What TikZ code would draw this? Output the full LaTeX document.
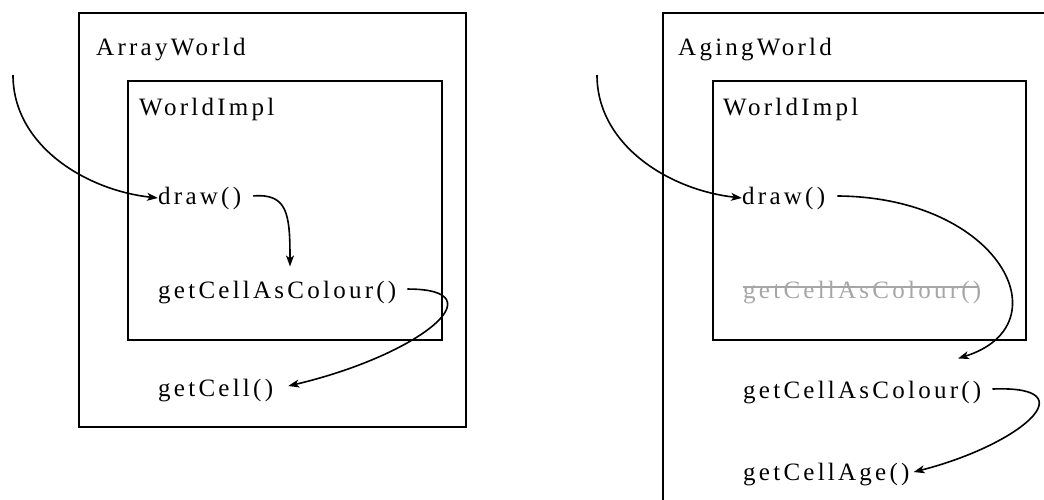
\documentclass[tikz,border=0pt]{standalone}
\usepackage{fontspec}
\setmainfont{Liberation Serif}[LetterSpace=13]
\usetikzlibrary{arrows.meta,calc}
\definecolor{ghost}{gray}{0.65}
\begin{document}
\begin{tikzpicture}[x=1pt,y=-1pt,
  lbl/.style={anchor=base west,inner sep=0pt,font=\fontsize{25}{29}\selectfont},
  box/.style={draw,line width=1.6pt},
  conn/.style={line width=1.6pt,-{Stealth[length=11pt,width=8pt,inset=3pt]}},
  strike/.style={ghost,line width=1.4pt}
]
\clip (0,0) rectangle (1044,499);
% boxes
\draw[box] (79,13) rectangle (466,427);
\draw[box] (128,81) rectangle (442,340);
\draw[box] (663,13) rectangle (1060,530);
\draw[box] (713,81) rectangle (1026,340);
% labels left
\node[lbl] (arrW) at (96,55) {ArrayWorld};
\node[lbl] (implL) at (139,115) {WorldImpl};
\node[lbl] (drawL) at (158,204) {draw()};
\node[lbl] (gcL) at (158,298) {getCellAsColour()};
\node[lbl] (cellL) at (158,396) {getCell()};
% labels right
\node[lbl] (ageW) at (678,55) {AgingWorld};
\node[lbl] (implR) at (723,115) {WorldImpl};
\node[lbl] (drawR) at (742,204) {draw()};
\node[lbl,text=ghost] (gX) at (743,298) {getCellAsColour()};
\node[lbl] (gcR) at (743,398) {getCellAsColour()};
\node[lbl] (ageR) at (743,480) {getCellAge()};
\draw[strike] ($(gX.base west)+(0,-11)$) -- ($(gX.base east)+(-2,-11)$);
% connectors left
\coordinate (inL) at (13,75);
\draw[conn] (inL) .. controls (13,145) and (85,190) .. (drawL.west);
\draw[conn] ($(drawL.east)+(12,-2)$) .. controls (288,193) and (290,215) .. ($(gcL.north west)+(132,-14)$);
\draw[conn] ($(gcL.east)+(11,-3)$) .. controls (500,289) and (420,355) .. ($(cellL.east)+(15,-4)$);
% connectors right
\coordinate (inR) at (597,75);
\draw[conn] (inR) .. controls (597,145) and (669,190) .. (drawR.west);
\draw[conn] ($(drawR.east)+(12,-2)$) .. controls (1000,197) and (1065,325) .. ($(gcR.north west)+(215,-22)$);
\draw[conn] ($(gcR.east)+(11,-3)$) .. controls (1090,385) and (1020,445) .. ($(ageR.east)+(4,-2)$);
\end{tikzpicture}
\end{document}
